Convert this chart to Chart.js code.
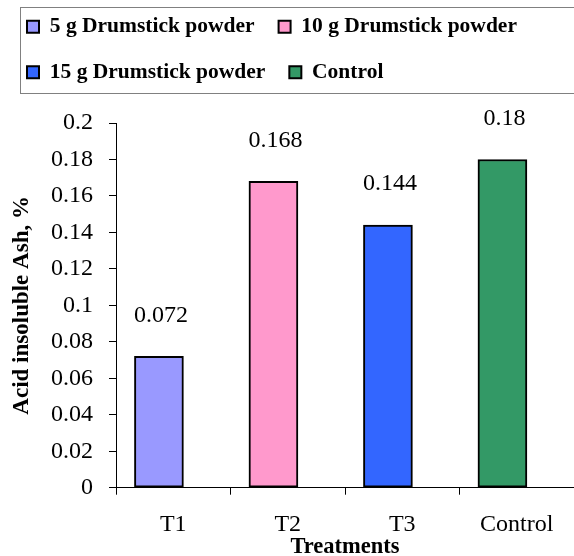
<!DOCTYPE html>
<html>
<head>
<meta charset="utf-8">
<script src="https://cdn.jsdelivr.net/npm/chart.js@4.4.1/dist/chart.umd.min.js"></script>
<style>
  html, body { margin: 0; padding: 0; background: #fff; }
  #wrap { width: 574px; height: 556px; }
</style>
</head>
<body>
<div id="wrap"><canvas id="chart"></canvas></div>
<script>
const categories = ['T1', 'T2', 'T3', 'Control'];
const seriesNames = ['5 g Drumstick powder', '10 g Drumstick powder', '15 g Drumstick powder', 'Control'];
const values = [0.072, 0.168, 0.144, 0.18];
const yTicks = [0, 0.02, 0.04, 0.06, 0.08, 0.1, 0.12, 0.14, 0.16, 0.18, 0.2];
const colors = ['#9999FF', '#FF99CC', '#3366FF', '#339966'];

const serif = "'Liberation Serif', 'Times New Roman', serif";

// one dataset per treatment, value only in its own category
const datasets = seriesNames.map((name, i) => ({
  label: name,
  data: categories.map((_, j) => j === i ? values[i] : null),
  backgroundColor: colors[i],
  borderColor: '#000',
  borderWidth: 2,
  borderSkipped: false
}));
// empty companion so each bar sits left of the category centre, as in the original
datasets.push({ label: '', data: categories.map(() => 0), backgroundColor: 'rgba(0,0,0,0)', borderWidth: 0 });

const valueLabels = {
  id: 'valueLabels',
  afterDatasetsDraw(chart) {
    const ctx = chart.ctx;
    ctx.save();
    ctx.font = '24px ' + serif;
    ctx.fillStyle = '#000';
    ctx.textAlign = 'center';
    ctx.textBaseline = 'middle';
    values.forEach((v, i) => {
      const bar = chart.getDatasetMeta(i).data[i];
      ctx.fillText(String(v), bar.x + 2, bar.y - 41);
    });
    ctx.restore();
  }
};

const legendFrame = {
  id: 'legendFrame',
  afterDraw(chart) {
    const lg = chart.legend;
    const ctx = chart.ctx;
    ctx.save();
    ctx.strokeStyle = '#808080';
    ctx.lineWidth = 1;
    ctx.strokeRect(lg.left + 17.5, lg.top + 15.5, lg.width + 20, 86);
    ctx.restore();
  }
};

new Chart(document.getElementById('chart'), {
  type: 'bar',
  data: { labels: categories, datasets },
  options: {
    responsive: true,
    maintainAspectRatio: false,
    animation: false,
    skipNull: true,
    categoryPercentage: 0.5,
    barPercentage: 2,
    maxBarThickness: 49,
    layout: { padding: { top: -8, left: 3, right: 0, bottom: 0 } },
    plugins: {
      legend: {
        position: 'top',
        align: 'start',
        labels: {
          filter: item => item.datasetIndex < seriesNames.length,
          font: { family: serif, size: 21.5, weight: 'bold' },
          color: '#000',
          boxWidth: 12,
          boxHeight: 12,
          padding: 24
        }
      },
      // blank spacer between legend and plot
      title: { display: true, text: ' ', weight: 500, font: { size: 10, lineHeight: 1 }, padding: 10 },
      tooltip: { enabled: false }
    },
    scales: {
      x: {
        grid: { drawOnChartArea: false, color: '#000', tickLength: 7, offset: true },
        border: { color: '#000', width: 1 },
        ticks: { color: '#000', font: { family: serif, size: 24 }, padding: 16 },
        title: { display: true, text: 'Treatments', color: '#000', font: { family: serif, size: 22.5, weight: 'bold', lineHeight: 1 }, padding: { top: -20, bottom: -2 } }
      },
      y: {
        min: 0,
        max: 0.2,
        afterBuildTicks: s => { s.ticks = yTicks.map(v => ({ value: v })); },
        afterFit: s => { s.width = 113; },
        grid: { drawOnChartArea: false, color: '#000', tickLength: 7 },
        border: { color: '#000', width: 1 },
        ticks: { color: '#000', font: { family: serif, size: 24 }, padding: 16, callback: v => String(Math.round(v * 100) / 100) },
        title: { display: true, text: 'Acid insoluble Ash, %', color: '#000', font: { family: serif, size: 23, weight: 'bold', lineHeight: 1.2 }, padding: 5 }
      }
    }
  },
  plugins: [valueLabels, legendFrame]
});
</script>
</body>
</html>
